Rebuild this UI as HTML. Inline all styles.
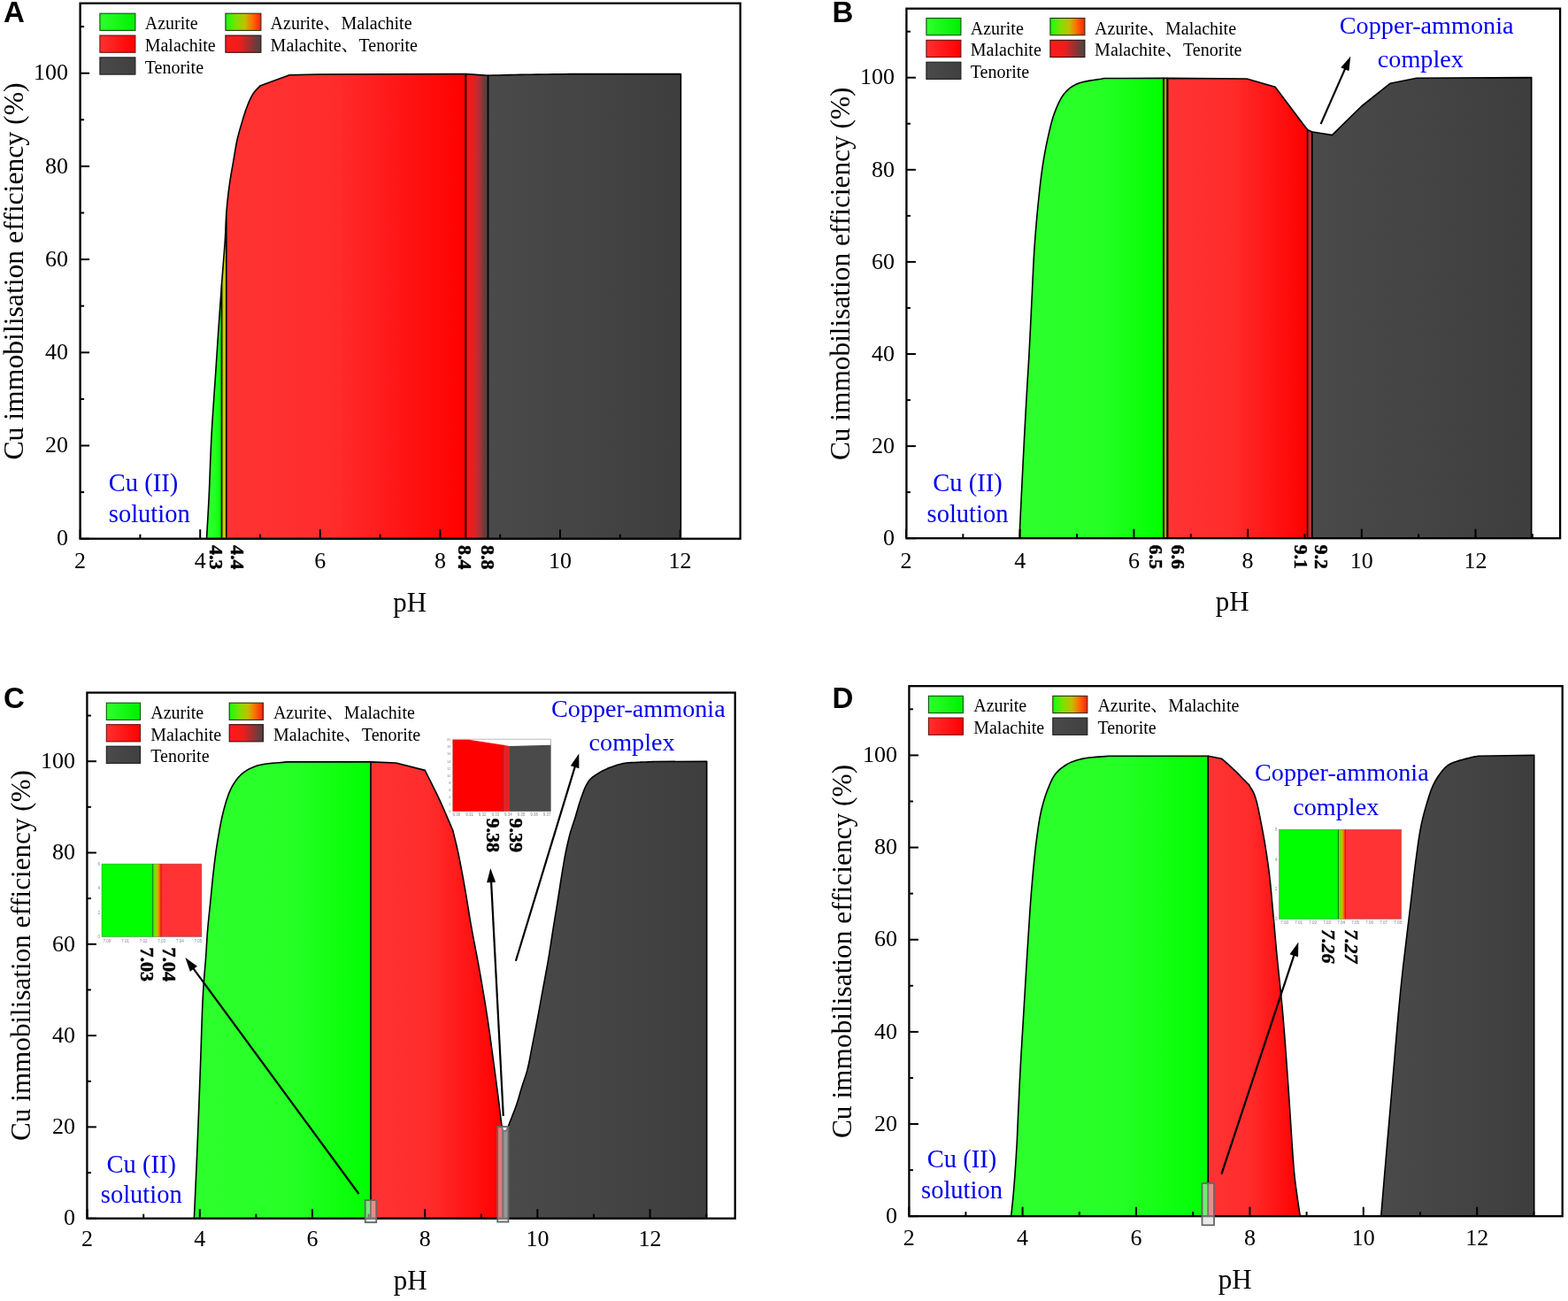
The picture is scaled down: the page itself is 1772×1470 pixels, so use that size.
<!DOCTYPE html><html><head><meta charset="utf-8"><title>Cu immobilisation efficiency vs pH</title>
<style>html,body{margin:0;padding:0;background:#fff;}svg{display:block;}</style></head><body>
<svg width="1772" height="1470" viewBox="0 0 1772 1470">
<rect x="0" y="0" width="1772" height="1470" fill="#fff"/>
<defs>
<linearGradient id="gG" x1="0" y1="0" x2="1" y2="0"><stop offset="0" stop-color="#2eff2e"/><stop offset="0.55" stop-color="#26ff26"/><stop offset="1" stop-color="#00ff00"/></linearGradient>
<linearGradient id="gR" x1="0" y1="0" x2="1" y2="0"><stop offset="0" stop-color="#ff3333"/><stop offset="0.45" stop-color="#ff2c2c"/><stop offset="1" stop-color="#ff0000"/></linearGradient>
<linearGradient id="gK" x1="0" y1="0" x2="1" y2="0"><stop offset="0" stop-color="#4a4a4a"/><stop offset="1" stop-color="#3e3e3e"/></linearGradient>
<linearGradient id="gGR" x1="0" y1="0" x2="1" y2="0"><stop offset="0" stop-color="#10ff10"/><stop offset="0.3" stop-color="#80e000"/><stop offset="0.55" stop-color="#c0c000"/><stop offset="0.75" stop-color="#ff7000"/><stop offset="1" stop-color="#ff2010"/></linearGradient>
<linearGradient id="gRK" x1="0" y1="0" x2="1" y2="0"><stop offset="0" stop-color="#ff1010"/><stop offset="0.25" stop-color="#f41a1a"/><stop offset="0.4" stop-color="#d42820"/><stop offset="0.55" stop-color="#c22838"/><stop offset="0.7" stop-color="#923838"/><stop offset="0.8" stop-color="#763a30"/><stop offset="0.9" stop-color="#554048"/><stop offset="1" stop-color="#484848"/></linearGradient>
<linearGradient id="gY" x1="0" y1="0" x2="1" y2="0"><stop offset="0" stop-color="#a8d800"/><stop offset="0.5" stop-color="#c4cc00"/><stop offset="1" stop-color="#c8a820"/></linearGradient>
<linearGradient id="lgG" x1="0" y1="0" x2="1" y2="0"><stop offset="0" stop-color="#2eff2e"/><stop offset="1" stop-color="#00f000"/></linearGradient>
<linearGradient id="lgR" x1="0" y1="0" x2="1" y2="0"><stop offset="0" stop-color="#ff3030"/><stop offset="1" stop-color="#ff0000"/></linearGradient>
<linearGradient id="lgK" x1="0" y1="0" x2="1" y2="0"><stop offset="0" stop-color="#4a4a4a"/><stop offset="1" stop-color="#404040"/></linearGradient>
<linearGradient id="lgGR" x1="0" y1="0" x2="1" y2="0"><stop offset="0" stop-color="#10ff10"/><stop offset="0.3" stop-color="#80e000"/><stop offset="0.55" stop-color="#c0c000"/><stop offset="0.75" stop-color="#ff7000"/><stop offset="1" stop-color="#ff2010"/></linearGradient>
<linearGradient id="lgRK" x1="0" y1="0" x2="1" y2="0"><stop offset="0" stop-color="#ff1a1a"/><stop offset="0.4" stop-color="#f01c1c"/><stop offset="1" stop-color="#454545"/></linearGradient>
</defs>
<path d="M233.5 608.7 L233.5 608.7 L233.84 602.67 L234.18 596.71 L234.53 590.78 L234.87 584.84 L235.21 578.84 L235.55 572.73 L235.88 566.46 L236.2 560 L236.56 552.13 L236.89 544 L237.2 535.68 L237.51 527.2 L237.84 518.61 L238.19 509.97 L238.57 501.32 L239 492.7 L239.51 483.67 L240.07 474.49 L240.68 465.23 L241.31 455.95 L241.95 446.69 L242.58 437.53 L243.21 428.51 L243.8 419.7 L244.32 411.83 L244.83 404.02 L245.34 396.3 L245.84 388.67 L246.33 381.15 L246.82 373.75 L247.31 366.5 L247.8 359.4 L248.22 353.37 L248.64 347.49 L249.05 341.72 L249.46 336.05 L249.87 330.43 L250.28 324.86 L250.6 320.48 L250.6 608.7 Z" fill="url(#gG)" stroke="#000" stroke-width="1.6" stroke-linejoin="round"/>
<path d="M250.6 608.7 L250.6 320.48 L250.69 319.29 L251.1 313.7 L251.51 308.29 L251.93 302.86 L252.36 297.44 L252.78 292.05 L253.2 286.72 L253.59 281.47 L253.96 276.32 L254.3 271.3 L254.55 267.01 L254.76 262.81 L254.94 258.69 L255.11 254.62 L255.28 250.61 L255.48 246.63 L255.71 242.66 L255.8 241.46 L255.8 608.7 Z" fill="url(#gY)" stroke="#000" stroke-width="1.6" stroke-linejoin="round"/>
<path d="M255.8 608.7 L255.8 241.46 L256 238.7 L256.31 234.95 L256.65 231.23 L257.01 227.55 L257.4 223.89 L257.81 220.24 L258.25 216.6 L258.71 212.96 L259.2 209.3 L259.73 205.6 L260.32 201.86 L260.93 198.12 L261.57 194.38 L262.22 190.67 L262.87 187.02 L263.5 183.46 L264.1 180 L264.59 177.08 L265.06 174.22 L265.52 171.41 L265.97 168.65 L266.44 165.93 L266.93 163.26 L267.44 160.61 L268 158 L268.54 155.66 L269.11 153.37 L269.7 151.12 L270.31 148.9 L270.93 146.69 L271.58 144.48 L272.23 142.25 L272.9 140 L273.6 137.63 L274.31 135.22 L275.03 132.79 L275.77 130.37 L276.54 127.96 L277.32 125.58 L278.14 123.26 L279 121 L279.81 118.95 L280.64 116.9 L281.49 114.87 L282.37 112.89 L283.27 110.95 L284.21 109.1 L285.18 107.34 L286.2 105.7 L287.08 104.45 L287.99 103.3 L288.94 102.21 L289.91 101.17 L290.88 100.17 L291.86 99.17 L292.84 98.15 L293.8 97.1 L327.1 84.8 L360 84 L526.4 83.6 L526.4 608.7 Z" fill="url(#gR)" stroke="#000" stroke-width="1.6" stroke-linejoin="round"/>
<path d="M526.4 608.7 L526.4 83.6 L551.6 85.2 L551.6 608.7 Z" fill="url(#gRK)" stroke="#000" stroke-width="1.6" stroke-linejoin="round"/>
<path d="M551.6 608.7 L551.6 85.2 L557.64 85.07 L563.68 84.94 L569.72 84.81 L575.75 84.67 L581.79 84.55 L587.84 84.42 L593.91 84.31 L600 84.2 L606.21 84.1 L612.44 84.02 L618.69 83.94 L624.95 83.87 L631.21 83.81 L637.48 83.74 L643.74 83.67 L650 83.6 L769.4 83.6 L769.4 608.7 Z" fill="url(#gK)" stroke="#000" stroke-width="1.6" stroke-linejoin="round"/>
<rect x="90.6" y="3.7" width="746" height="605" fill="none" stroke="#000" stroke-width="2.3"/>
<line x1="90.6" y1="608.7" x2="90.6" y2="598.2" stroke="#000" stroke-width="2"/>
<text x="90.6" y="642" font-size="26" text-anchor="middle" font-family='"Liberation Serif", "Times New Roman", serif'>2</text>
<line x1="158.4" y1="608.7" x2="158.4" y2="603.7" stroke="#000" stroke-width="2"/>
<line x1="226.2" y1="608.7" x2="226.2" y2="598.2" stroke="#000" stroke-width="2"/>
<text x="226.2" y="642" font-size="26" text-anchor="middle" font-family='"Liberation Serif", "Times New Roman", serif'>4</text>
<line x1="294" y1="608.7" x2="294" y2="603.7" stroke="#000" stroke-width="2"/>
<line x1="361.8" y1="608.7" x2="361.8" y2="598.2" stroke="#000" stroke-width="2"/>
<text x="361.8" y="642" font-size="26" text-anchor="middle" font-family='"Liberation Serif", "Times New Roman", serif'>6</text>
<line x1="429.6" y1="608.7" x2="429.6" y2="603.7" stroke="#000" stroke-width="2"/>
<line x1="497.4" y1="608.7" x2="497.4" y2="598.2" stroke="#000" stroke-width="2"/>
<text x="497.4" y="642" font-size="26" text-anchor="middle" font-family='"Liberation Serif", "Times New Roman", serif'>8</text>
<line x1="565.2" y1="608.7" x2="565.2" y2="603.7" stroke="#000" stroke-width="2"/>
<line x1="633" y1="608.7" x2="633" y2="598.2" stroke="#000" stroke-width="2"/>
<text x="633" y="642" font-size="26" text-anchor="middle" font-family='"Liberation Serif", "Times New Roman", serif'>10</text>
<line x1="700.8" y1="608.7" x2="700.8" y2="603.7" stroke="#000" stroke-width="2"/>
<line x1="768.6" y1="608.7" x2="768.6" y2="598.2" stroke="#000" stroke-width="2"/>
<text x="768.6" y="642" font-size="26" text-anchor="middle" font-family='"Liberation Serif", "Times New Roman", serif'>12</text>
<line x1="90.6" y1="608.7" x2="101.1" y2="608.7" stroke="#000" stroke-width="2"/>
<text x="77.1" y="616.4" font-size="26" text-anchor="end" font-family='"Liberation Serif", "Times New Roman", serif'>0</text>
<line x1="90.6" y1="556.1" x2="95.1" y2="556.1" stroke="#000" stroke-width="2"/>
<line x1="90.6" y1="503.5" x2="101.1" y2="503.5" stroke="#000" stroke-width="2"/>
<text x="77.1" y="511.2" font-size="26" text-anchor="end" font-family='"Liberation Serif", "Times New Roman", serif'>20</text>
<line x1="90.6" y1="450.9" x2="95.1" y2="450.9" stroke="#000" stroke-width="2"/>
<line x1="90.6" y1="398.3" x2="101.1" y2="398.3" stroke="#000" stroke-width="2"/>
<text x="77.1" y="406" font-size="26" text-anchor="end" font-family='"Liberation Serif", "Times New Roman", serif'>40</text>
<line x1="90.6" y1="345.7" x2="95.1" y2="345.7" stroke="#000" stroke-width="2"/>
<line x1="90.6" y1="293.1" x2="101.1" y2="293.1" stroke="#000" stroke-width="2"/>
<text x="77.1" y="300.8" font-size="26" text-anchor="end" font-family='"Liberation Serif", "Times New Roman", serif'>60</text>
<line x1="90.6" y1="240.5" x2="95.1" y2="240.5" stroke="#000" stroke-width="2"/>
<line x1="90.6" y1="187.9" x2="101.1" y2="187.9" stroke="#000" stroke-width="2"/>
<text x="77.1" y="195.6" font-size="26" text-anchor="end" font-family='"Liberation Serif", "Times New Roman", serif'>80</text>
<line x1="90.6" y1="135.3" x2="95.1" y2="135.3" stroke="#000" stroke-width="2"/>
<line x1="90.6" y1="82.7" x2="101.1" y2="82.7" stroke="#000" stroke-width="2"/>
<text x="77.1" y="90.4" font-size="26" text-anchor="end" font-family='"Liberation Serif", "Times New Roman", serif'>100</text>
<line x1="90.6" y1="30.1" x2="95.1" y2="30.1" stroke="#000" stroke-width="2"/>
<text x="463.1" y="690.6" font-size="31" text-anchor="middle" font-family='"Liberation Serif", "Times New Roman", serif'>pH</text>
<text transform="translate(25.7 519.6) rotate(-90)" font-size="31.7" font-family='"Liberation Serif", "Times New Roman", serif'>Cu immobilisation efficiency (%)</text>
<text x="4" y="25.4" font-size="33" font-weight="bold" font-family='"Liberation Sans", Arial, sans-serif'>A</text>
<rect x="112.9" y="15.2" width="40" height="19.2" fill="url(#lgG)" stroke="#075507" stroke-width="1.1"/>
<text x="163.7" y="33.2" font-size="20" font-family='"Liberation Serif", "Noto Serif CJK SC", serif'>Azurite</text>
<rect x="112.9" y="40.05" width="40" height="19.2" fill="url(#lgR)" stroke="#701010" stroke-width="1.1"/>
<text x="163.7" y="58.05" font-size="20" font-family='"Liberation Serif", "Noto Serif CJK SC", serif'>Malachite</text>
<rect x="112.9" y="64.9" width="40" height="19.2" fill="url(#lgK)" stroke="#1c1c1c" stroke-width="1.1"/>
<text x="163.7" y="82.9" font-size="20" font-family='"Liberation Serif", "Noto Serif CJK SC", serif'>Tenorite</text>
<rect x="254.9" y="15.2" width="40" height="19.2" fill="url(#lgGR)" stroke="#303008" stroke-width="1.1"/>
<text x="305.6" y="33.2" font-size="20" font-family='"Liberation Serif", "Noto Serif CJK SC", serif'>Azurite、Malachite</text>
<rect x="254.9" y="40.05" width="40" height="19.2" fill="url(#lgRK)" stroke="#301010" stroke-width="1.1"/>
<text x="305.6" y="58.05" font-size="20" font-family='"Liberation Serif", "Noto Serif CJK SC", serif'>Malachite、Tenorite</text>
<text x="122.8" y="555.1" font-size="28.5" fill="#0000ee" text-anchor="start" font-family='"Liberation Serif", "Times New Roman", serif'>Cu (II)</text>
<text x="122.8" y="590.4" font-size="28.5" fill="#0000ee" text-anchor="start" font-family='"Liberation Serif", "Times New Roman", serif'>solution</text>
<text transform="translate(237.1 616) rotate(90)" font-size="22" font-weight="bold" stroke="#000" stroke-width="0.45" font-family='"Liberation Serif", "Times New Roman", serif'>4.3</text>
<text transform="translate(260.9 616) rotate(90)" font-size="22" font-weight="bold" stroke="#000" stroke-width="0.45" font-family='"Liberation Serif", "Times New Roman", serif'>4.4</text>
<text transform="translate(517.5 616) rotate(90)" font-size="22" font-weight="bold" stroke="#000" stroke-width="0.45" font-family='"Liberation Serif", "Times New Roman", serif'>8.4</text>
<text transform="translate(544.2 616) rotate(90)" font-size="22" font-weight="bold" stroke="#000" stroke-width="0.45" font-family='"Liberation Serif", "Times New Roman", serif'>8.8</text>
<path d="M1152 608.2 L1152 608.2 L1152.29 602.18 L1152.57 596.15 L1152.86 590.13 L1153.14 584.11 L1153.43 578.08 L1153.72 572.06 L1154.01 566.03 L1154.3 560 L1154.59 553.99 L1154.88 548.04 L1155.17 542.11 L1155.46 536.17 L1155.76 530.18 L1156.06 524.11 L1156.38 517.93 L1156.7 511.6 L1157.08 504.23 L1157.48 496.63 L1157.89 488.87 L1158.3 481.02 L1158.73 473.14 L1159.15 465.3 L1159.58 457.56 L1160 450 L1160.4 443.08 L1160.8 436.28 L1161.21 429.56 L1161.62 422.88 L1162.02 416.2 L1162.42 409.49 L1162.82 402.7 L1163.2 395.8 L1163.59 388.35 L1163.98 380.78 L1164.36 373.12 L1164.73 365.43 L1165.1 357.73 L1165.46 350.07 L1165.83 342.48 L1166.2 335 L1166.54 327.99 L1166.86 321.04 L1167.17 314.14 L1167.49 307.28 L1167.82 300.44 L1168.17 293.63 L1168.56 286.82 L1169 280 L1169.48 273.22 L1170 266.37 L1170.55 259.51 L1171.13 252.67 L1171.72 245.91 L1172.34 239.26 L1172.97 232.78 L1173.6 226.5 L1174.14 221.28 L1174.69 216.16 L1175.24 211.14 L1175.8 206.22 L1176.38 201.39 L1176.99 196.65 L1177.63 191.98 L1178.3 187.4 L1178.91 183.47 L1179.53 179.65 L1180.17 175.9 L1180.83 172.22 L1181.52 168.57 L1182.24 164.93 L1183 161.28 L1183.8 157.6 L1184.63 153.84 L1185.48 150.03 L1186.35 146.2 L1187.26 142.39 L1188.23 138.62 L1189.26 134.93 L1190.38 131.35 L1191.6 127.9 L1192.75 124.89 L1193.94 121.89 L1195.19 118.94 L1196.49 116.07 L1197.87 113.31 L1199.34 110.69 L1200.91 108.24 L1202.6 106 L1204.1 104.25 L1205.63 102.63 L1207.22 101.12 L1208.88 99.73 L1210.64 98.43 L1212.51 97.21 L1214.53 96.08 L1216.7 95 L1219.93 93.74 L1223.52 92.71 L1227.39 91.87 L1231.46 91.16 L1235.64 90.52 L1239.84 89.9 L1243.99 89.25 L1248 88.5 L1315 88.3 L1315 608.2 Z" fill="url(#gG)" stroke="#000" stroke-width="1.6" stroke-linejoin="round"/>
<path d="M1315 608.2 L1315 88.3 L1319.2 88.33 L1319.2 608.2 Z" fill="#b09a2a" stroke="#000" stroke-width="1.6" stroke-linejoin="round"/>
<path d="M1319.6 608.2 L1319.6 88.33 L1409 89 L1441.1 98.2 L1474.4 142.6 L1477.8 146.45 L1477.8 608.2 Z" fill="url(#gR)" stroke="#000" stroke-width="1.6" stroke-linejoin="round"/>
<path d="M1477.6 608.2 L1477.6 146.22 L1478.2 146.9 L1482.8 148.91 L1482.8 608.2 Z" fill="#b8323a" stroke="#000" stroke-width="1.6" stroke-linejoin="round"/>
<path d="M1482.8 608.2 L1482.8 148.91 L1483 149 L1505.5 152.6 L1538.7 120 L1570.9 94.3 L1600.9 88.3 L1730.7 87.6 L1730.7 608.2 Z" fill="url(#gK)" stroke="#000" stroke-width="1.6" stroke-linejoin="round"/>
<rect x="1024.4" y="9.7" width="738.7" height="598.5" fill="none" stroke="#000" stroke-width="2.3"/>
<line x1="1024" y1="608.2" x2="1024" y2="597.7" stroke="#000" stroke-width="2"/>
<text x="1024" y="641.9" font-size="26" text-anchor="middle" font-family='"Liberation Serif", "Times New Roman", serif'>2</text>
<line x1="1088.35" y1="608.2" x2="1088.35" y2="603.2" stroke="#000" stroke-width="2"/>
<line x1="1152.7" y1="608.2" x2="1152.7" y2="597.7" stroke="#000" stroke-width="2"/>
<text x="1152.7" y="641.9" font-size="26" text-anchor="middle" font-family='"Liberation Serif", "Times New Roman", serif'>4</text>
<line x1="1217.05" y1="608.2" x2="1217.05" y2="603.2" stroke="#000" stroke-width="2"/>
<line x1="1281.4" y1="608.2" x2="1281.4" y2="597.7" stroke="#000" stroke-width="2"/>
<text x="1281.4" y="641.9" font-size="26" text-anchor="middle" font-family='"Liberation Serif", "Times New Roman", serif'>6</text>
<line x1="1345.75" y1="608.2" x2="1345.75" y2="603.2" stroke="#000" stroke-width="2"/>
<line x1="1410.1" y1="608.2" x2="1410.1" y2="597.7" stroke="#000" stroke-width="2"/>
<text x="1410.1" y="641.9" font-size="26" text-anchor="middle" font-family='"Liberation Serif", "Times New Roman", serif'>8</text>
<line x1="1474.45" y1="608.2" x2="1474.45" y2="603.2" stroke="#000" stroke-width="2"/>
<line x1="1538.8" y1="608.2" x2="1538.8" y2="597.7" stroke="#000" stroke-width="2"/>
<text x="1538.8" y="641.9" font-size="26" text-anchor="middle" font-family='"Liberation Serif", "Times New Roman", serif'>10</text>
<line x1="1603.15" y1="608.2" x2="1603.15" y2="603.2" stroke="#000" stroke-width="2"/>
<line x1="1667.5" y1="608.2" x2="1667.5" y2="597.7" stroke="#000" stroke-width="2"/>
<text x="1667.5" y="641.9" font-size="26" text-anchor="middle" font-family='"Liberation Serif", "Times New Roman", serif'>12</text>
<line x1="1731.85" y1="608.2" x2="1731.85" y2="603.2" stroke="#000" stroke-width="2"/>
<line x1="1024.4" y1="608.2" x2="1034.9" y2="608.2" stroke="#000" stroke-width="2"/>
<text x="1010.9" y="615.9" font-size="26" text-anchor="end" font-family='"Liberation Serif", "Times New Roman", serif'>0</text>
<line x1="1024.4" y1="556.15" x2="1028.9" y2="556.15" stroke="#000" stroke-width="2"/>
<line x1="1024.4" y1="504.1" x2="1034.9" y2="504.1" stroke="#000" stroke-width="2"/>
<text x="1010.9" y="511.8" font-size="26" text-anchor="end" font-family='"Liberation Serif", "Times New Roman", serif'>20</text>
<line x1="1024.4" y1="452.05" x2="1028.9" y2="452.05" stroke="#000" stroke-width="2"/>
<line x1="1024.4" y1="400" x2="1034.9" y2="400" stroke="#000" stroke-width="2"/>
<text x="1010.9" y="407.7" font-size="26" text-anchor="end" font-family='"Liberation Serif", "Times New Roman", serif'>40</text>
<line x1="1024.4" y1="347.95" x2="1028.9" y2="347.95" stroke="#000" stroke-width="2"/>
<line x1="1024.4" y1="295.9" x2="1034.9" y2="295.9" stroke="#000" stroke-width="2"/>
<text x="1010.9" y="303.6" font-size="26" text-anchor="end" font-family='"Liberation Serif", "Times New Roman", serif'>60</text>
<line x1="1024.4" y1="243.85" x2="1028.9" y2="243.85" stroke="#000" stroke-width="2"/>
<line x1="1024.4" y1="191.8" x2="1034.9" y2="191.8" stroke="#000" stroke-width="2"/>
<text x="1010.9" y="199.5" font-size="26" text-anchor="end" font-family='"Liberation Serif", "Times New Roman", serif'>80</text>
<line x1="1024.4" y1="139.75" x2="1028.9" y2="139.75" stroke="#000" stroke-width="2"/>
<line x1="1024.4" y1="87.7" x2="1034.9" y2="87.7" stroke="#000" stroke-width="2"/>
<text x="1010.9" y="95.4" font-size="26" text-anchor="end" font-family='"Liberation Serif", "Times New Roman", serif'>100</text>
<line x1="1024.4" y1="35.65" x2="1028.9" y2="35.65" stroke="#000" stroke-width="2"/>
<text x="1392.8" y="689.8" font-size="31" text-anchor="middle" font-family='"Liberation Serif", "Times New Roman", serif'>pH</text>
<text transform="translate(959.5 520.1) rotate(-90)" font-size="31.35" font-family='"Liberation Serif", "Times New Roman", serif'>Cu immobilisation efficiency (%)</text>
<text x="940.5" y="24.9" font-size="33" font-weight="bold" font-family='"Liberation Sans", Arial, sans-serif'>B</text>
<rect x="1046.9" y="20.5" width="39" height="19.2" fill="url(#lgG)" stroke="#075507" stroke-width="1.1"/>
<text x="1096.8" y="38.5" font-size="20" font-family='"Liberation Serif", "Noto Serif CJK SC", serif'>Azurite</text>
<rect x="1046.9" y="45.35" width="39" height="19.2" fill="url(#lgR)" stroke="#701010" stroke-width="1.1"/>
<text x="1096.8" y="63.35" font-size="20" font-family='"Liberation Serif", "Noto Serif CJK SC", serif'>Malachite</text>
<rect x="1046.9" y="70.2" width="39" height="19.2" fill="url(#lgK)" stroke="#1c1c1c" stroke-width="1.1"/>
<text x="1096.8" y="88.2" font-size="20" font-family='"Liberation Serif", "Noto Serif CJK SC", serif'>Tenorite</text>
<rect x="1186.9" y="20.5" width="39" height="19.2" fill="url(#lgGR)" stroke="#303008" stroke-width="1.1"/>
<text x="1237.1" y="38.5" font-size="20" font-family='"Liberation Serif", "Noto Serif CJK SC", serif'>Azurite、Malachite</text>
<rect x="1186.9" y="45.35" width="39" height="19.2" fill="url(#lgRK)" stroke="#301010" stroke-width="1.1"/>
<text x="1237.1" y="63.35" font-size="20" font-family='"Liberation Serif", "Noto Serif CJK SC", serif'>Malachite、Tenorite</text>
<text x="1093.5" y="555.3" font-size="28.5" fill="#0000ee" text-anchor="middle" font-family='"Liberation Serif", "Times New Roman", serif'>Cu (II)</text>
<text x="1093.5" y="590.3" font-size="28.5" fill="#0000ee" text-anchor="middle" font-family='"Liberation Serif", "Times New Roman", serif'>solution</text>
<text x="1513.8" y="37.9" font-size="28.2" fill="#0000ee" text-anchor="start" font-family='"Liberation Serif", "Times New Roman", serif'>Copper-ammonia</text>
<text x="1556.8" y="75.7" font-size="28.2" fill="#0000ee" text-anchor="start" font-family='"Liberation Serif", "Times New Roman", serif'>complex</text>
<line x1="1492.6" y1="140.1" x2="1522.43" y2="72.39" stroke="#000" stroke-width="2.2"/>
<path d="M1526.3 63.6 L1524.43 80.26 L1515.27 76.23 Z" fill="#000"/>
<text transform="translate(1298.7 615.5) rotate(90)" font-size="22" font-weight="bold" stroke="#000" stroke-width="0.45" font-family='"Liberation Serif", "Times New Roman", serif'>6.5</text>
<text transform="translate(1324 615.5) rotate(90)" font-size="22" font-weight="bold" stroke="#000" stroke-width="0.45" font-family='"Liberation Serif", "Times New Roman", serif'>6.6</text>
<text transform="translate(1462.9 615.5) rotate(90)" font-size="22" font-weight="bold" stroke="#000" stroke-width="0.45" font-family='"Liberation Serif", "Times New Roman", serif'>9.1</text>
<text transform="translate(1486.2 615.5) rotate(90)" font-size="22" font-weight="bold" stroke="#000" stroke-width="0.45" font-family='"Liberation Serif", "Times New Roman", serif'>9.2</text>
<path d="M219.4 1376.7 L219.4 1376.7 L219.88 1365.98 L220.36 1355.26 L220.85 1344.53 L221.34 1333.81 L221.82 1323.09 L222.29 1312.38 L222.75 1301.68 L223.2 1291 L223.63 1280.42 L224.04 1269.86 L224.45 1259.3 L224.84 1248.76 L225.23 1238.22 L225.62 1227.69 L226.01 1217.15 L226.4 1206.6 L226.78 1195.85 L227.14 1184.82 L227.5 1173.67 L227.85 1162.59 L228.22 1151.72 L228.61 1141.26 L229.03 1131.36 L229.5 1122.2 L229.87 1116.17 L230.27 1110.42 L230.69 1104.92 L231.12 1099.64 L231.54 1094.54 L231.96 1089.59 L232.35 1084.76 L232.7 1080 L232.95 1076.27 L233.17 1072.72 L233.37 1069.3 L233.57 1065.94 L233.77 1062.61 L233.98 1059.24 L234.22 1055.79 L234.5 1052.2 L234.86 1047.99 L235.26 1043.67 L235.69 1039.27 L236.15 1034.81 L236.61 1030.32 L237.08 1025.83 L237.55 1021.34 L238 1016.9 L238.44 1012.46 L238.87 1008.01 L239.3 1003.54 L239.73 999.08 L240.17 994.63 L240.62 990.21 L241.1 985.83 L241.6 981.5 L242.09 977.45 L242.58 973.46 L243.08 969.51 L243.6 965.58 L244.14 961.66 L244.72 957.72 L245.34 953.74 L246 949.7 L246.74 945.31 L247.52 940.81 L248.33 936.25 L249.18 931.68 L250.07 927.15 L251.02 922.71 L252.03 918.41 L253.1 914.3 L254.04 910.91 L254.99 907.58 L255.96 904.32 L256.98 901.15 L258.07 898.06 L259.24 895.09 L260.51 892.23 L261.9 889.5 L263.2 887.2 L264.56 884.98 L265.99 882.83 L267.48 880.77 L269.05 878.81 L270.71 876.95 L272.46 875.21 L274.3 873.6 L276.21 872.13 L278.2 870.8 L280.26 869.57 L282.41 868.45 L284.66 867.43 L287 866.48 L289.44 865.61 L292 864.8 L295.48 863.92 L299.22 863.25 L303.16 862.74 L307.25 862.34 L311.42 862 L315.61 861.68 L319.75 861.33 L323.8 860.9 L419 860.9 L419 1376.7 Z" fill="url(#gG)" stroke="#000" stroke-width="1.6" stroke-linejoin="round"/>
<path d="M419 1376.7 L419 860.9 L447.4 862 L480.3 870.4 L482.37 874.58 L484.46 878.76 L486.55 882.93 L488.65 887.1 L490.72 891.28 L492.78 895.47 L494.81 899.67 L496.8 903.9 L498.75 908.16 L500.66 912.44 L502.54 916.74 L504.4 921.05 L506.24 925.36 L508.09 929.68 L509.94 933.99 L511.8 938.3 L512.55 941.44 L513.3 944.52 L514.05 947.58 L514.8 950.65 L515.55 953.77 L516.3 956.96 L517.05 960.26 L517.8 963.7 L518.73 968.14 L519.66 972.77 L520.59 977.55 L521.52 982.45 L522.45 987.43 L523.38 992.48 L524.29 997.54 L525.2 1002.6 L526.15 1008.05 L527.08 1013.56 L527.99 1019.14 L528.9 1024.76 L529.82 1030.42 L530.75 1036.1 L531.71 1041.8 L532.7 1047.5 L533.77 1053.4 L534.87 1059.3 L536 1065.23 L537.15 1071.18 L538.31 1077.16 L539.45 1083.19 L540.59 1089.26 L541.7 1095.4 L542.86 1101.98 L544.02 1108.64 L545.18 1115.37 L546.33 1122.14 L547.46 1128.94 L548.57 1135.74 L549.65 1142.53 L550.7 1149.3 L551.72 1156.07 L552.7 1162.88 L553.67 1169.72 L554.61 1176.55 L555.53 1183.34 L556.44 1190.07 L557.32 1196.7 L558.2 1203.2 L558.99 1209.1 L559.79 1215.04 L560.57 1220.95 L561.34 1226.78 L562.08 1232.47 L562.79 1237.96 L563.47 1243.19 L564.1 1248.1 L564.54 1251.58 L564.95 1255.07 L565.36 1258.49 L565.74 1261.77 L566.11 1264.84 L566.46 1267.61 L566.79 1270.03 L567.1 1272 L567.22 1272.66 L567.34 1273.24 L567.45 1273.75 L567.56 1274.21 L567.67 1274.65 L567.78 1275.08 L567.89 1275.52 L568 1276 L568 1376.7 Z" fill="url(#gR)" stroke="#000" stroke-width="1.6" stroke-linejoin="round"/>
<path d="M568.6 1376.7 L568.6 1277.6 L572 1278 L572.18 1277.59 L572.36 1277.2 L572.53 1276.82 L572.7 1276.44 L572.88 1276.04 L573.07 1275.6 L573.28 1275.13 L573.5 1274.6 L573.99 1273.41 L574.55 1272.03 L575.17 1270.5 L575.82 1268.85 L576.5 1267.14 L577.18 1265.4 L577.85 1263.67 L578.5 1262 L579.17 1260.27 L579.85 1258.54 L580.54 1256.8 L581.22 1255.04 L581.9 1253.26 L582.58 1251.45 L583.24 1249.59 L583.9 1247.7 L584.62 1245.5 L585.32 1243.23 L586.02 1240.91 L586.7 1238.56 L587.38 1236.18 L588.07 1233.78 L588.78 1231.39 L589.5 1229 L590.28 1226.55 L591.09 1224.12 L591.91 1221.69 L592.74 1219.24 L593.57 1216.76 L594.38 1214.22 L595.16 1211.61 L595.9 1208.9 L596.72 1205.56 L597.5 1202.09 L598.25 1198.52 L598.97 1194.86 L599.67 1191.16 L600.37 1187.43 L601.08 1183.7 L601.8 1180 L602.56 1176.19 L603.31 1172.35 L604.07 1168.5 L604.82 1164.63 L605.57 1160.75 L606.31 1156.85 L607.06 1152.93 L607.8 1149 L608.56 1144.93 L609.31 1140.82 L610.06 1136.7 L610.81 1132.56 L611.56 1128.41 L612.3 1124.27 L613.05 1120.13 L613.8 1116 L614.55 1111.9 L615.32 1107.8 L616.08 1103.7 L616.85 1099.61 L617.61 1095.52 L618.36 1091.42 L619.09 1087.31 L619.8 1083.2 L620.49 1079.06 L621.15 1074.91 L621.8 1070.75 L622.44 1066.59 L623.07 1062.43 L623.71 1058.28 L624.35 1054.13 L625 1050 L625.66 1045.91 L626.33 1041.8 L627 1037.69 L627.67 1033.59 L628.34 1029.52 L629.01 1025.47 L629.66 1021.46 L630.3 1017.5 L630.88 1013.84 L631.45 1010.21 L632.01 1006.6 L632.57 1003.03 L633.12 999.48 L633.67 995.96 L634.23 992.47 L634.8 989 L635.34 985.74 L635.87 982.49 L636.39 979.27 L636.93 976.07 L637.47 972.9 L638.02 969.76 L638.6 966.66 L639.2 963.6 L639.77 960.79 L640.36 958.01 L640.96 955.24 L641.57 952.52 L642.2 949.82 L642.85 947.17 L643.51 944.56 L644.2 942 L644.84 939.75 L645.51 937.57 L646.19 935.44 L646.89 933.33 L647.6 931.23 L648.3 929.12 L649.01 926.98 L649.7 924.8 L650.42 922.43 L651.13 920.02 L651.84 917.58 L652.55 915.12 L653.26 912.67 L653.99 910.24 L654.73 907.84 L655.5 905.5 L656.23 903.31 L656.97 901.1 L657.73 898.9 L658.49 896.72 L659.27 894.61 L660.06 892.58 L660.87 890.67 L661.7 888.9 L662.32 887.66 L662.94 886.49 L663.56 885.37 L664.19 884.3 L664.84 883.28 L665.52 882.31 L666.24 881.38 L667 880.5 L667.74 879.74 L668.51 879.04 L669.3 878.38 L670.12 877.76 L670.97 877.16 L671.83 876.58 L672.71 875.99 L673.6 875.4 L674.58 874.75 L675.59 874.11 L676.62 873.48 L677.66 872.85 L678.73 872.24 L679.81 871.65 L680.9 871.06 L682 870.5 L683.14 869.94 L684.28 869.39 L685.43 868.86 L686.59 868.35 L687.79 867.85 L689.01 867.36 L690.28 866.88 L691.6 866.4 L693.3 865.81 L695.09 865.21 L696.95 864.61 L698.86 864.03 L700.79 863.48 L702.73 862.99 L704.64 862.55 L706.5 862.2 L708.19 861.96 L709.84 861.79 L711.48 861.68 L713.11 861.61 L714.76 861.56 L716.45 861.53 L718.19 861.48 L720 861.4 L722.31 861.28 L724.72 861.17 L727.21 861.06 L729.75 860.94 L732.33 860.83 L734.91 860.72 L737.47 860.61 L740 860.5 L798.7 860.3 L798.7 1376.7 Z" fill="url(#gK)" stroke="#000" stroke-width="1.6" stroke-linejoin="round"/>
<rect x="98.4" y="782.6" width="732.3" height="594.1" fill="none" stroke="#000" stroke-width="2.3"/>
<line x1="98.6" y1="1376.7" x2="98.6" y2="1366.2" stroke="#000" stroke-width="2"/>
<text x="98.6" y="1408.4" font-size="26" text-anchor="middle" font-family='"Liberation Serif", "Times New Roman", serif'>2</text>
<line x1="162.2" y1="1376.7" x2="162.2" y2="1371.7" stroke="#000" stroke-width="2"/>
<line x1="225.8" y1="1376.7" x2="225.8" y2="1366.2" stroke="#000" stroke-width="2"/>
<text x="225.8" y="1408.4" font-size="26" text-anchor="middle" font-family='"Liberation Serif", "Times New Roman", serif'>4</text>
<line x1="289.4" y1="1376.7" x2="289.4" y2="1371.7" stroke="#000" stroke-width="2"/>
<line x1="353" y1="1376.7" x2="353" y2="1366.2" stroke="#000" stroke-width="2"/>
<text x="353" y="1408.4" font-size="26" text-anchor="middle" font-family='"Liberation Serif", "Times New Roman", serif'>6</text>
<line x1="416.6" y1="1376.7" x2="416.6" y2="1371.7" stroke="#000" stroke-width="2"/>
<line x1="480.2" y1="1376.7" x2="480.2" y2="1366.2" stroke="#000" stroke-width="2"/>
<text x="480.2" y="1408.4" font-size="26" text-anchor="middle" font-family='"Liberation Serif", "Times New Roman", serif'>8</text>
<line x1="543.8" y1="1376.7" x2="543.8" y2="1371.7" stroke="#000" stroke-width="2"/>
<line x1="607.4" y1="1376.7" x2="607.4" y2="1366.2" stroke="#000" stroke-width="2"/>
<text x="607.4" y="1408.4" font-size="26" text-anchor="middle" font-family='"Liberation Serif", "Times New Roman", serif'>10</text>
<line x1="671" y1="1376.7" x2="671" y2="1371.7" stroke="#000" stroke-width="2"/>
<line x1="734.6" y1="1376.7" x2="734.6" y2="1366.2" stroke="#000" stroke-width="2"/>
<text x="734.6" y="1408.4" font-size="26" text-anchor="middle" font-family='"Liberation Serif", "Times New Roman", serif'>12</text>
<line x1="798.2" y1="1376.7" x2="798.2" y2="1371.7" stroke="#000" stroke-width="2"/>
<line x1="98.4" y1="1376.7" x2="108.9" y2="1376.7" stroke="#000" stroke-width="2"/>
<text x="84.9" y="1384.4" font-size="26" text-anchor="end" font-family='"Liberation Serif", "Times New Roman", serif'>0</text>
<line x1="98.4" y1="1325.05" x2="102.9" y2="1325.05" stroke="#000" stroke-width="2"/>
<line x1="98.4" y1="1273.4" x2="108.9" y2="1273.4" stroke="#000" stroke-width="2"/>
<text x="84.9" y="1281.1" font-size="26" text-anchor="end" font-family='"Liberation Serif", "Times New Roman", serif'>20</text>
<line x1="98.4" y1="1221.75" x2="102.9" y2="1221.75" stroke="#000" stroke-width="2"/>
<line x1="98.4" y1="1170.1" x2="108.9" y2="1170.1" stroke="#000" stroke-width="2"/>
<text x="84.9" y="1177.8" font-size="26" text-anchor="end" font-family='"Liberation Serif", "Times New Roman", serif'>40</text>
<line x1="98.4" y1="1118.45" x2="102.9" y2="1118.45" stroke="#000" stroke-width="2"/>
<line x1="98.4" y1="1066.8" x2="108.9" y2="1066.8" stroke="#000" stroke-width="2"/>
<text x="84.9" y="1074.5" font-size="26" text-anchor="end" font-family='"Liberation Serif", "Times New Roman", serif'>60</text>
<line x1="98.4" y1="1015.15" x2="102.9" y2="1015.15" stroke="#000" stroke-width="2"/>
<line x1="98.4" y1="963.5" x2="108.9" y2="963.5" stroke="#000" stroke-width="2"/>
<text x="84.9" y="971.2" font-size="26" text-anchor="end" font-family='"Liberation Serif", "Times New Roman", serif'>80</text>
<line x1="98.4" y1="911.85" x2="102.9" y2="911.85" stroke="#000" stroke-width="2"/>
<line x1="98.4" y1="860.2" x2="108.9" y2="860.2" stroke="#000" stroke-width="2"/>
<text x="84.9" y="867.9" font-size="26" text-anchor="end" font-family='"Liberation Serif", "Times New Roman", serif'>100</text>
<line x1="98.4" y1="808.55" x2="102.9" y2="808.55" stroke="#000" stroke-width="2"/>
<text x="463.7" y="1456.9" font-size="31" text-anchor="middle" font-family='"Liberation Serif", "Times New Roman", serif'>pH</text>
<text transform="translate(33.6 1288.9) rotate(-90)" font-size="31.15" font-family='"Liberation Serif", "Times New Roman", serif'>Cu immobilisation efficiency (%)</text>
<text x="4" y="799.9" font-size="33" font-weight="bold" font-family='"Liberation Sans", Arial, sans-serif'>C</text>
<rect x="120.3" y="794.2" width="38.2" height="19.2" fill="url(#lgG)" stroke="#075507" stroke-width="1.1"/>
<text x="170.2" y="812.2" font-size="20" font-family='"Liberation Serif", "Noto Serif CJK SC", serif'>Azurite</text>
<rect x="120.3" y="818.7" width="38.2" height="19.2" fill="url(#lgR)" stroke="#701010" stroke-width="1.1"/>
<text x="170.2" y="836.7" font-size="20" font-family='"Liberation Serif", "Noto Serif CJK SC", serif'>Malachite</text>
<rect x="120.3" y="843.2" width="38.2" height="19.2" fill="url(#lgK)" stroke="#1c1c1c" stroke-width="1.1"/>
<text x="170.2" y="861.2" font-size="20" font-family='"Liberation Serif", "Noto Serif CJK SC", serif'>Tenorite</text>
<rect x="259.2" y="794.2" width="38.2" height="19.2" fill="url(#lgGR)" stroke="#303008" stroke-width="1.1"/>
<text x="308.9" y="812.2" font-size="20" font-family='"Liberation Serif", "Noto Serif CJK SC", serif'>Azurite、Malachite</text>
<rect x="259.2" y="818.7" width="38.2" height="19.2" fill="url(#lgRK)" stroke="#301010" stroke-width="1.1"/>
<text x="308.9" y="836.7" font-size="20" font-family='"Liberation Serif", "Noto Serif CJK SC", serif'>Malachite、Tenorite</text>
<text x="159.8" y="1324.9" font-size="28.5" fill="#0000ee" text-anchor="middle" font-family='"Liberation Serif", "Times New Roman", serif'>Cu (II)</text>
<text x="159.8" y="1358.8" font-size="28.5" fill="#0000ee" text-anchor="middle" font-family='"Liberation Serif", "Times New Roman", serif'>solution</text>
<text x="623" y="809.7" font-size="28.2" fill="#0000ee" text-anchor="start" font-family='"Liberation Serif", "Times New Roman", serif'>Copper-ammonia</text>
<text x="665.6" y="847.6" font-size="28.2" fill="#0000ee" text-anchor="start" font-family='"Liberation Serif", "Times New Roman", serif'>complex</text>
<rect x="115" y="976.1" width="57.7" height="82.4" fill="#00ff00"/>
<rect x="172.7" y="976.1" width="9.5" height="82.4" fill="url(#gGR)"/>
<rect x="182.2" y="976.1" width="45.7" height="82.4" fill="#ff3333"/>
<line x1="172.7" y1="976.1" x2="172.7" y2="1058.5" stroke="#205020" stroke-width="0.9"/>
<line x1="182.2" y1="976.1" x2="182.2" y2="1058.5" stroke="#902020" stroke-width="0.9"/>
<rect x="115" y="976.1" width="112.9" height="82.4" fill="none" stroke="#555" stroke-opacity="0.6" stroke-width="0.7"/>
<text x="121" y="1064.5" font-size="4.5" fill="#888" text-anchor="middle" font-family='"Liberation Sans", Arial, sans-serif'>7.00</text>
<text x="141.58" y="1064.5" font-size="4.5" fill="#888" text-anchor="middle" font-family='"Liberation Sans", Arial, sans-serif'>7.01</text>
<text x="162.16" y="1064.5" font-size="4.5" fill="#888" text-anchor="middle" font-family='"Liberation Sans", Arial, sans-serif'>7.02</text>
<text x="182.74" y="1064.5" font-size="4.5" fill="#888" text-anchor="middle" font-family='"Liberation Sans", Arial, sans-serif'>7.03</text>
<text x="203.32" y="1064.5" font-size="4.5" fill="#888" text-anchor="middle" font-family='"Liberation Sans", Arial, sans-serif'>7.04</text>
<text x="223.9" y="1064.5" font-size="4.5" fill="#888" text-anchor="middle" font-family='"Liberation Sans", Arial, sans-serif'>7.05</text>
<text x="113" y="1060" font-size="4.5" fill="#888" text-anchor="end" font-family='"Liberation Sans", Arial, sans-serif'>0</text>
<text x="113" y="1032.53" font-size="4.5" fill="#888" text-anchor="end" font-family='"Liberation Sans", Arial, sans-serif'>2</text>
<text x="113" y="1005.07" font-size="4.5" fill="#888" text-anchor="end" font-family='"Liberation Sans", Arial, sans-serif'>4</text>
<text x="113" y="977.6" font-size="4.5" fill="#888" text-anchor="end" font-family='"Liberation Sans", Arial, sans-serif'>6</text>
<text transform="translate(159.2 1070.5) rotate(90)" font-size="22" font-weight="bold" stroke="#000" stroke-width="0.45" font-family='"Liberation Serif", "Times New Roman", serif'>7.03</text>
<text transform="translate(183.6 1070.5) rotate(90)" font-size="22" font-weight="bold" stroke="#000" stroke-width="0.45" font-family='"Liberation Serif", "Times New Roman", serif'>7.04</text>
<rect x="511.7" y="835.2" width="110.7" height="81.6" fill="#fff" stroke="#aaa" stroke-width="0.8"/>
<path d="M511.7 835.7 L529.6 835.7 L568.6 841.7 L568.6 916.8 L511.7 916.8 Z" fill="#ff0000"/>
<path d="M568.6 841.7 L576 842.9 L576 916.8 L568.6 916.8 Z" fill="#e02424"/>
<path d="M576 842.9 L622.4 841.8 L622.4 916.8 L576 916.8 Z" fill="#4a4a4a"/>
<line x1="568.6" y1="841.7" x2="568.6" y2="916.8" stroke="#8a1010" stroke-width="0.8"/>
<text x="516" y="921.5" font-size="4.5" fill="#888" text-anchor="middle" font-family='"Liberation Sans", Arial, sans-serif'>9.30</text>
<text x="530.6" y="921.5" font-size="4.5" fill="#888" text-anchor="middle" font-family='"Liberation Sans", Arial, sans-serif'>9.31</text>
<text x="545.2" y="921.5" font-size="4.5" fill="#888" text-anchor="middle" font-family='"Liberation Sans", Arial, sans-serif'>9.32</text>
<text x="559.8" y="921.5" font-size="4.5" fill="#888" text-anchor="middle" font-family='"Liberation Sans", Arial, sans-serif'>9.33</text>
<text x="574.4" y="921.5" font-size="4.5" fill="#888" text-anchor="middle" font-family='"Liberation Sans", Arial, sans-serif'>9.34</text>
<text x="589" y="921.5" font-size="4.5" fill="#888" text-anchor="middle" font-family='"Liberation Sans", Arial, sans-serif'>9.35</text>
<text x="603.6" y="921.5" font-size="4.5" fill="#888" text-anchor="middle" font-family='"Liberation Sans", Arial, sans-serif'>9.36</text>
<text x="618.2" y="921.5" font-size="4.5" fill="#888" text-anchor="middle" font-family='"Liberation Sans", Arial, sans-serif'>9.37</text>
<text x="509.5" y="918.2" font-size="4" fill="#888" text-anchor="end" font-family='"Liberation Sans", Arial, sans-serif'>0</text>
<text x="509.5" y="910.1" font-size="4" fill="#888" text-anchor="end" font-family='"Liberation Sans", Arial, sans-serif'>2</text>
<text x="509.5" y="902" font-size="4" fill="#888" text-anchor="end" font-family='"Liberation Sans", Arial, sans-serif'>4</text>
<text x="509.5" y="893.9" font-size="4" fill="#888" text-anchor="end" font-family='"Liberation Sans", Arial, sans-serif'>6</text>
<text x="509.5" y="885.8" font-size="4" fill="#888" text-anchor="end" font-family='"Liberation Sans", Arial, sans-serif'>8</text>
<text x="509.5" y="877.7" font-size="4" fill="#888" text-anchor="end" font-family='"Liberation Sans", Arial, sans-serif'>10</text>
<text x="509.5" y="869.6" font-size="4" fill="#888" text-anchor="end" font-family='"Liberation Sans", Arial, sans-serif'>12</text>
<text x="509.5" y="861.5" font-size="4" fill="#888" text-anchor="end" font-family='"Liberation Sans", Arial, sans-serif'>14</text>
<text x="509.5" y="853.4" font-size="4" fill="#888" text-anchor="end" font-family='"Liberation Sans", Arial, sans-serif'>16</text>
<text x="509.5" y="845.3" font-size="4" fill="#888" text-anchor="end" font-family='"Liberation Sans", Arial, sans-serif'>18</text>
<text x="509.5" y="837.2" font-size="4" fill="#888" text-anchor="end" font-family='"Liberation Sans", Arial, sans-serif'>20</text>
<text transform="translate(550.4 924.5) rotate(90)" font-size="22" font-weight="bold" stroke="#000" stroke-width="0.45" font-family='"Liberation Serif", "Times New Roman", serif'>9.38</text>
<text transform="translate(575.9 924.5) rotate(90)" font-size="22" font-weight="bold" stroke="#000" stroke-width="0.45" font-family='"Liberation Serif", "Times New Roman", serif'>9.39</text>
<rect x="412.7" y="1356.1" width="12.6" height="25.1" fill="rgba(215,215,215,0.55)" stroke="#666" stroke-width="1.8"/>
<rect x="562.2" y="1273" width="12.3" height="107.6" fill="rgba(215,215,215,0.55)" stroke="#666" stroke-width="1.8"/>
<line x1="405.5" y1="1349" x2="215.08" y2="1089.64" stroke="#000" stroke-width="2.2"/>
<path d="M209.4 1081.9 L222.9 1091.84 L214.84 1097.76 Z" fill="#000"/>
<line x1="568.8" y1="1261" x2="554.8" y2="990.59" stroke="#000" stroke-width="2.2"/>
<path d="M554.3 981 L560.12 996.72 L550.13 997.24 Z" fill="#000"/>
<line x1="582.9" y1="1085.7" x2="651.5" y2="860.58" stroke="#000" stroke-width="2.2"/>
<path d="M654.3 851.4 L654.42 868.16 L644.85 865.25 Z" fill="#000"/>
<path d="M1142.7 1374.2 L1142.7 1374.2 L1143.06 1370.58 L1143.43 1367.03 L1143.8 1363.51 L1144.17 1359.98 L1144.53 1356.39 L1144.89 1352.69 L1145.25 1348.84 L1145.6 1344.8 L1146.06 1339.15 L1146.52 1333.09 L1146.98 1326.74 L1147.43 1320.23 L1147.86 1313.68 L1148.27 1307.23 L1148.66 1300.99 L1149 1295.1 L1149.25 1290.46 L1149.47 1286.03 L1149.67 1281.74 L1149.85 1277.53 L1150.03 1273.31 L1150.2 1269.03 L1150.39 1264.62 L1150.6 1260 L1150.86 1254.37 L1151.12 1248.62 L1151.38 1242.76 L1151.66 1236.77 L1151.94 1230.65 L1152.24 1224.39 L1152.56 1217.97 L1152.9 1211.4 L1153.35 1203.13 L1153.84 1194.51 L1154.36 1185.63 L1154.9 1176.55 L1155.45 1167.38 L1156.01 1158.17 L1156.56 1149.02 L1157.1 1140 L1157.63 1131.04 L1158.16 1122.04 L1158.69 1113.03 L1159.23 1104.02 L1159.76 1095.04 L1160.3 1086.13 L1160.85 1077.31 L1161.4 1068.6 L1161.91 1060.52 L1162.42 1052.52 L1162.92 1044.58 L1163.43 1036.7 L1163.95 1028.88 L1164.5 1021.11 L1165.08 1013.39 L1165.7 1005.7 L1166.33 998.33 L1166.97 990.88 L1167.64 983.44 L1168.34 976.06 L1169.06 968.81 L1169.81 961.78 L1170.59 955.02 L1171.4 948.6 L1172.04 943.84 L1172.67 939.23 L1173.31 934.76 L1173.98 930.43 L1174.68 926.23 L1175.42 922.15 L1176.22 918.17 L1177.1 914.3 L1177.88 911.17 L1178.68 908.12 L1179.52 905.17 L1180.4 902.28 L1181.31 899.47 L1182.27 896.73 L1183.26 894.04 L1184.3 891.4 L1185.24 889.07 L1186.16 886.77 L1187.11 884.52 L1188.09 882.31 L1189.14 880.17 L1190.28 878.12 L1191.52 876.15 L1192.9 874.3 L1194.38 872.59 L1195.98 870.95 L1197.67 869.4 L1199.45 867.92 L1201.3 866.54 L1203.2 865.23 L1205.14 864.02 L1207.1 862.9 L1209.07 861.89 L1211.07 860.98 L1213.11 860.18 L1215.21 859.45 L1217.36 858.8 L1219.58 858.2 L1221.89 857.64 L1224.3 857.1 L1227.5 856.51 L1230.9 856.05 L1234.46 855.68 L1238.12 855.39 L1241.83 855.13 L1245.57 854.88 L1249.27 854.62 L1252.9 854.3 L1365.3 854.3 L1365.3 1374.2 Z" fill="url(#gG)" stroke="#000" stroke-width="1.6" stroke-linejoin="round"/>
<path d="M1365.3 1374.2 L1365.3 854.3 L1380.7 857.3 L1382.24 858.65 L1383.75 859.97 L1385.26 861.28 L1386.77 862.59 L1388.3 863.93 L1389.86 865.31 L1391.45 866.76 L1393.1 868.3 L1395.26 870.37 L1397.5 872.58 L1399.8 874.89 L1402.15 877.27 L1404.52 879.69 L1406.9 882.13 L1409.27 884.54 L1411.6 886.9 L1412.38 888.29 L1413.18 889.63 L1413.98 890.93 L1414.78 892.25 L1415.57 893.62 L1416.34 895.08 L1417.08 896.66 L1417.8 898.4 L1418.83 901.38 L1419.79 904.64 L1420.69 908.17 L1421.56 911.92 L1422.39 915.85 L1423.22 919.93 L1424.05 924.13 L1424.9 928.4 L1426.06 934.3 L1427.23 940.59 L1428.4 947.18 L1429.56 953.98 L1430.68 960.9 L1431.76 967.85 L1432.77 974.75 L1433.7 981.5 L1434.53 988.15 L1435.29 994.86 L1435.98 1001.58 L1436.62 1008.29 L1437.23 1014.98 L1437.82 1021.61 L1438.4 1028.16 L1439 1034.6 L1439.54 1040.39 L1440.05 1046.01 L1440.54 1051.52 L1441.02 1057.01 L1441.5 1062.53 L1442 1068.16 L1442.53 1073.96 L1443.1 1080 L1443.84 1087.53 L1444.64 1095.27 L1445.48 1103.21 L1446.34 1111.32 L1447.21 1119.6 L1448.07 1128.03 L1448.91 1136.6 L1449.7 1145.3 L1450.57 1155.56 L1451.41 1166.11 L1452.23 1176.9 L1453.04 1187.86 L1453.83 1198.95 L1454.62 1210.11 L1455.41 1221.28 L1456.2 1232.4 L1457.03 1244.33 L1457.85 1256.92 L1458.67 1269.79 L1459.49 1282.6 L1460.3 1294.98 L1461.11 1306.58 L1461.91 1317.04 L1462.7 1326 L1463.12 1330.07 L1463.53 1333.75 L1463.93 1337.12 L1464.34 1340.26 L1464.74 1343.26 L1465.16 1346.19 L1465.57 1349.15 L1466 1352.2 L1466.4 1355.04 L1466.81 1357.84 L1467.22 1360.59 L1467.63 1363.32 L1468.05 1366.04 L1468.47 1368.75 L1468.89 1371.46 L1469.3 1374.2 L1469.3 1374.2 Z" fill="url(#gR)" stroke="#000" stroke-width="1.6" stroke-linejoin="round"/>
<path d="M1560.7 1374.2 L1560.7 1374.2 L1561.51 1364.64 L1562.32 1355.07 L1563.13 1345.51 L1563.94 1335.94 L1564.75 1326.38 L1565.57 1316.81 L1566.38 1307.26 L1567.2 1297.7 L1568.02 1288.17 L1568.84 1278.64 L1569.67 1269.11 L1570.5 1259.59 L1571.33 1250.07 L1572.15 1240.55 L1572.98 1231.02 L1573.8 1221.5 L1574.62 1211.84 L1575.45 1201.99 L1576.28 1192.06 L1577.1 1182.17 L1577.92 1172.43 L1578.73 1162.96 L1579.52 1153.88 L1580.3 1145.3 L1580.88 1139.02 L1581.46 1132.97 L1582.02 1127.12 L1582.58 1121.44 L1583.13 1115.91 L1583.69 1110.51 L1584.24 1105.22 L1584.8 1100 L1585.27 1095.73 L1585.73 1091.66 L1586.19 1087.72 L1586.65 1083.85 L1587.12 1079.96 L1587.59 1076.01 L1588.09 1071.91 L1588.6 1067.6 L1589.26 1062.09 L1589.94 1056.34 L1590.65 1050.42 L1591.38 1044.37 L1592.11 1038.25 L1592.85 1032.11 L1593.58 1026.01 L1594.3 1020 L1595.01 1014.01 L1595.71 1007.97 L1596.41 1001.91 L1597.11 995.86 L1597.81 989.86 L1598.53 983.92 L1599.25 978.09 L1600 972.4 L1600.67 967.36 L1601.34 962.34 L1602.02 957.36 L1602.7 952.46 L1603.41 947.67 L1604.14 943.03 L1604.9 938.56 L1605.7 934.3 L1606.35 931.14 L1607.01 928.14 L1607.68 925.25 L1608.37 922.45 L1609.08 919.7 L1609.82 916.96 L1610.59 914.21 L1611.4 911.4 L1612.25 908.49 L1613.12 905.52 L1614.02 902.53 L1614.95 899.56 L1615.91 896.64 L1616.9 893.82 L1617.93 891.12 L1619 888.6 L1619.87 886.7 L1620.76 884.89 L1621.66 883.16 L1622.58 881.48 L1623.54 879.87 L1624.54 878.29 L1625.59 876.74 L1626.7 875.2 L1627.82 873.69 L1628.94 872.19 L1630.09 870.73 L1631.28 869.3 L1632.56 867.92 L1633.94 866.6 L1635.44 865.36 L1637.1 864.2 L1639.59 862.82 L1642.49 861.57 L1645.66 860.42 L1648.97 859.38 L1652.29 858.45 L1655.49 857.61 L1658.44 856.86 L1661 856.2 L1662.38 855.85 L1663.66 855.56 L1664.86 855.32 L1666 855.1 L1667.12 854.91 L1668.22 854.72 L1669.34 854.52 L1670.5 854.3 L1733.7 853.3 L1733.7 1374.2 Z" fill="url(#gK)" stroke="#000" stroke-width="1.6" stroke-linejoin="round"/>
<rect x="1027.4" y="775.2" width="738.3" height="599" fill="none" stroke="#000" stroke-width="2.3"/>
<line x1="1027.2" y1="1374.2" x2="1027.2" y2="1363.7" stroke="#000" stroke-width="2"/>
<text x="1027.2" y="1406.9" font-size="26" text-anchor="middle" font-family='"Liberation Serif", "Times New Roman", serif'>2</text>
<line x1="1091.4" y1="1374.2" x2="1091.4" y2="1369.2" stroke="#000" stroke-width="2"/>
<line x1="1155.6" y1="1374.2" x2="1155.6" y2="1363.7" stroke="#000" stroke-width="2"/>
<text x="1155.6" y="1406.9" font-size="26" text-anchor="middle" font-family='"Liberation Serif", "Times New Roman", serif'>4</text>
<line x1="1219.8" y1="1374.2" x2="1219.8" y2="1369.2" stroke="#000" stroke-width="2"/>
<line x1="1284" y1="1374.2" x2="1284" y2="1363.7" stroke="#000" stroke-width="2"/>
<text x="1284" y="1406.9" font-size="26" text-anchor="middle" font-family='"Liberation Serif", "Times New Roman", serif'>6</text>
<line x1="1348.2" y1="1374.2" x2="1348.2" y2="1369.2" stroke="#000" stroke-width="2"/>
<line x1="1412.4" y1="1374.2" x2="1412.4" y2="1363.7" stroke="#000" stroke-width="2"/>
<text x="1412.4" y="1406.9" font-size="26" text-anchor="middle" font-family='"Liberation Serif", "Times New Roman", serif'>8</text>
<line x1="1476.6" y1="1374.2" x2="1476.6" y2="1369.2" stroke="#000" stroke-width="2"/>
<line x1="1540.8" y1="1374.2" x2="1540.8" y2="1363.7" stroke="#000" stroke-width="2"/>
<text x="1540.8" y="1406.9" font-size="26" text-anchor="middle" font-family='"Liberation Serif", "Times New Roman", serif'>10</text>
<line x1="1605" y1="1374.2" x2="1605" y2="1369.2" stroke="#000" stroke-width="2"/>
<line x1="1669.2" y1="1374.2" x2="1669.2" y2="1363.7" stroke="#000" stroke-width="2"/>
<text x="1669.2" y="1406.9" font-size="26" text-anchor="middle" font-family='"Liberation Serif", "Times New Roman", serif'>12</text>
<line x1="1733.4" y1="1374.2" x2="1733.4" y2="1369.2" stroke="#000" stroke-width="2"/>
<line x1="1027.4" y1="1374.2" x2="1037.9" y2="1374.2" stroke="#000" stroke-width="2"/>
<text x="1013.9" y="1381.9" font-size="26" text-anchor="end" font-family='"Liberation Serif", "Times New Roman", serif'>0</text>
<line x1="1027.4" y1="1322.12" x2="1031.9" y2="1322.12" stroke="#000" stroke-width="2"/>
<line x1="1027.4" y1="1270.04" x2="1037.9" y2="1270.04" stroke="#000" stroke-width="2"/>
<text x="1013.9" y="1277.74" font-size="26" text-anchor="end" font-family='"Liberation Serif", "Times New Roman", serif'>20</text>
<line x1="1027.4" y1="1217.96" x2="1031.9" y2="1217.96" stroke="#000" stroke-width="2"/>
<line x1="1027.4" y1="1165.88" x2="1037.9" y2="1165.88" stroke="#000" stroke-width="2"/>
<text x="1013.9" y="1173.58" font-size="26" text-anchor="end" font-family='"Liberation Serif", "Times New Roman", serif'>40</text>
<line x1="1027.4" y1="1113.8" x2="1031.9" y2="1113.8" stroke="#000" stroke-width="2"/>
<line x1="1027.4" y1="1061.72" x2="1037.9" y2="1061.72" stroke="#000" stroke-width="2"/>
<text x="1013.9" y="1069.42" font-size="26" text-anchor="end" font-family='"Liberation Serif", "Times New Roman", serif'>60</text>
<line x1="1027.4" y1="1009.64" x2="1031.9" y2="1009.64" stroke="#000" stroke-width="2"/>
<line x1="1027.4" y1="957.56" x2="1037.9" y2="957.56" stroke="#000" stroke-width="2"/>
<text x="1013.9" y="965.26" font-size="26" text-anchor="end" font-family='"Liberation Serif", "Times New Roman", serif'>80</text>
<line x1="1027.4" y1="905.48" x2="1031.9" y2="905.48" stroke="#000" stroke-width="2"/>
<line x1="1027.4" y1="853.4" x2="1037.9" y2="853.4" stroke="#000" stroke-width="2"/>
<text x="1013.9" y="861.1" font-size="26" text-anchor="end" font-family='"Liberation Serif", "Times New Roman", serif'>100</text>
<line x1="1027.4" y1="801.32" x2="1031.9" y2="801.32" stroke="#000" stroke-width="2"/>
<text x="1395.7" y="1455.6" font-size="31" text-anchor="middle" font-family='"Liberation Serif", "Times New Roman", serif'>pH</text>
<text transform="translate(962 1286.1) rotate(-90)" font-size="31.4" font-family='"Liberation Serif", "Times New Roman", serif'>Cu immobilisation efficiency (%)</text>
<text x="940.5" y="799.9" font-size="33" font-weight="bold" font-family='"Liberation Sans", Arial, sans-serif'>D</text>
<rect x="1049.4" y="786.4" width="39" height="19.2" fill="url(#lgG)" stroke="#075507" stroke-width="1.1"/>
<text x="1100.2" y="804.4" font-size="20" font-family='"Liberation Serif", "Noto Serif CJK SC", serif'>Azurite</text>
<rect x="1049.4" y="811.1" width="39" height="19.2" fill="url(#lgR)" stroke="#701010" stroke-width="1.1"/>
<text x="1100.2" y="829.1" font-size="20" font-family='"Liberation Serif", "Noto Serif CJK SC", serif'>Malachite</text>
<rect x="1189.8" y="786.4" width="39" height="19.2" fill="url(#lgGR)" stroke="#303008" stroke-width="1.1"/>
<text x="1240.4" y="804.4" font-size="20" font-family='"Liberation Serif", "Noto Serif CJK SC", serif'>Azurite、Malachite</text>
<rect x="1189.8" y="811.1" width="39" height="19.2" fill="url(#lgK)" stroke="#1c1c1c" stroke-width="1.1"/>
<text x="1240.4" y="829.1" font-size="20" font-family='"Liberation Serif", "Noto Serif CJK SC", serif'>Tenorite</text>
<text x="1087" y="1318.8" font-size="28.5" fill="#0000ee" text-anchor="middle" font-family='"Liberation Serif", "Times New Roman", serif'>Cu (II)</text>
<text x="1087" y="1353.8" font-size="28.5" fill="#0000ee" text-anchor="middle" font-family='"Liberation Serif", "Times New Roman", serif'>solution</text>
<text x="1418" y="882.4" font-size="28.2" fill="#0000ee" text-anchor="start" font-family='"Liberation Serif", "Times New Roman", serif'>Copper-ammonia</text>
<text x="1461.2" y="920.5" font-size="28.2" fill="#0000ee" text-anchor="start" font-family='"Liberation Serif", "Times New Roman", serif'>complex</text>
<rect x="1445.6" y="937.3" width="66.8" height="101.1" fill="#00ff00"/>
<rect x="1512.4" y="937.3" width="8" height="101.1" fill="url(#gGR)"/>
<rect x="1520.4" y="937.3" width="63.3" height="101.1" fill="#ff3333"/>
<line x1="1512.4" y1="937.3" x2="1512.4" y2="1038.4" stroke="#205020" stroke-width="0.9"/>
<line x1="1520.4" y1="937.3" x2="1520.4" y2="1038.4" stroke="#902020" stroke-width="0.9"/>
<rect x="1445.6" y="937.3" width="138.1" height="101.1" fill="none" stroke="#555" stroke-opacity="0.6" stroke-width="0.7"/>
<text x="1451.6" y="1044.4" font-size="4.5" fill="#888" text-anchor="middle" font-family='"Liberation Sans", Arial, sans-serif'>7.00</text>
<text x="1467.61" y="1044.4" font-size="4.5" fill="#888" text-anchor="middle" font-family='"Liberation Sans", Arial, sans-serif'>7.01</text>
<text x="1483.62" y="1044.4" font-size="4.5" fill="#888" text-anchor="middle" font-family='"Liberation Sans", Arial, sans-serif'>7.02</text>
<text x="1499.64" y="1044.4" font-size="4.5" fill="#888" text-anchor="middle" font-family='"Liberation Sans", Arial, sans-serif'>7.03</text>
<text x="1515.65" y="1044.4" font-size="4.5" fill="#888" text-anchor="middle" font-family='"Liberation Sans", Arial, sans-serif'>7.04</text>
<text x="1531.66" y="1044.4" font-size="4.5" fill="#888" text-anchor="middle" font-family='"Liberation Sans", Arial, sans-serif'>7.05</text>
<text x="1547.67" y="1044.4" font-size="4.5" fill="#888" text-anchor="middle" font-family='"Liberation Sans", Arial, sans-serif'>7.06</text>
<text x="1563.69" y="1044.4" font-size="4.5" fill="#888" text-anchor="middle" font-family='"Liberation Sans", Arial, sans-serif'>7.07</text>
<text x="1579.7" y="1044.4" font-size="4.5" fill="#888" text-anchor="middle" font-family='"Liberation Sans", Arial, sans-serif'>7.08</text>
<text x="1443.6" y="1039.9" font-size="4.5" fill="#888" text-anchor="end" font-family='"Liberation Sans", Arial, sans-serif'>0</text>
<text x="1443.6" y="1006.2" font-size="4.5" fill="#888" text-anchor="end" font-family='"Liberation Sans", Arial, sans-serif'>2</text>
<text x="1443.6" y="972.5" font-size="4.5" fill="#888" text-anchor="end" font-family='"Liberation Sans", Arial, sans-serif'>4</text>
<text x="1443.6" y="938.8" font-size="4.5" fill="#888" text-anchor="end" font-family='"Liberation Sans", Arial, sans-serif'>6</text>
<text transform="translate(1494 1050) rotate(90)" font-size="22" font-weight="bold" stroke="#000" stroke-width="0.45" font-style="italic" font-family='"Liberation Serif", "Times New Roman", serif'>7.26</text>
<text transform="translate(1519.9 1050) rotate(90)" font-size="22" font-weight="bold" stroke="#000" stroke-width="0.45" font-style="italic" font-family='"Liberation Serif", "Times New Roman", serif'>7.27</text>
<rect x="1358.5" y="1336.9" width="13.5" height="47.4" fill="rgba(215,215,215,0.55)" stroke="#666" stroke-width="1.8"/>
<line x1="1380.4" y1="1326.7" x2="1464.28" y2="1073.71" stroke="#000" stroke-width="2.2"/>
<path d="M1467.3 1064.6 L1467.01 1081.36 L1457.52 1078.21 Z" fill="#000"/>
</svg></body></html>
